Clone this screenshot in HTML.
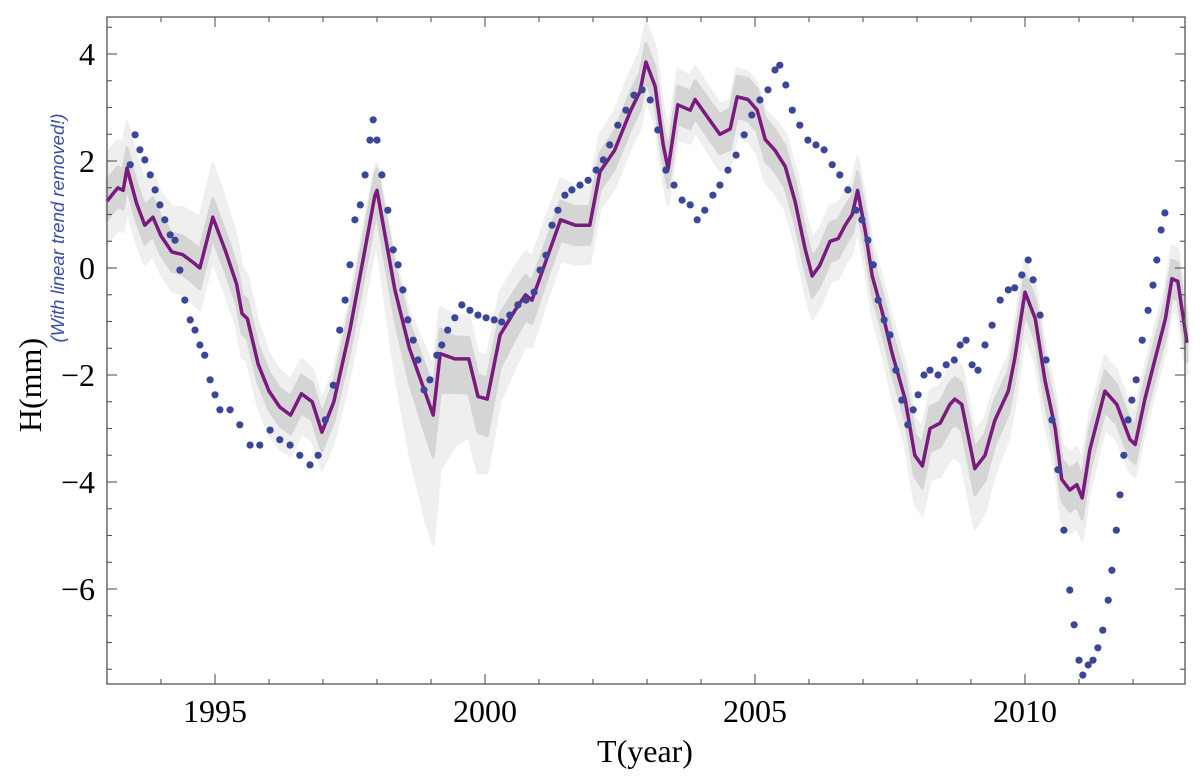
<!DOCTYPE html>
<html><head><meta charset="utf-8"><style>
html,body{margin:0;padding:0;background:#fff;}
svg{display:block;}
</style></head><body>
<svg id="chart" width="1200" height="776" xmlns="http://www.w3.org/2000/svg">
<g id="bands"></g>
<g id="line"></g>
<g id="dots"></g>
<g id="axes"></g>
<text x="645" y="762" text-anchor="middle" font-family="Liberation Serif, serif" font-size="32">T(year)</text>
<text transform="translate(41,385) rotate(-90)" text-anchor="middle" font-family="Liberation Serif, serif" font-size="32">H(mm)</text>
<text transform="translate(64,228) rotate(-90)" text-anchor="middle" font-family="Liberation Sans, sans-serif" font-style="italic" font-size="18.5" fill="#3a4ea8">(With linear trend removed!)</text>
</svg>
<script>
const lineYears=[1993.0,1993.2,1993.3,1993.37,1993.55,1993.7,1993.85,1994.0,1994.2,1994.4,1994.6,1994.72,1994.96,1995.2,1995.4,1995.5,1995.6,1995.8,1996.0,1996.2,1996.4,1996.6,1996.8,1996.98,1997.2,1997.5,1997.75,1997.96,1998.0,1998.33,1998.6,1998.9,1999.04,1999.17,1999.44,1999.7,1999.87,2000.04,2000.28,2000.55,2000.75,2000.87,2001.1,2001.4,2001.67,2001.94,2002.13,2002.4,2002.7,2002.87,2002.98,2003.15,2003.3,2003.39,2003.57,2003.8,2003.89,2004.17,2004.35,2004.54,2004.67,2004.87,2005.04,2005.19,2005.37,2005.56,2005.74,2005.93,2006.06,2006.2,2006.39,2006.54,2006.67,2006.8,2006.9,2007.04,2007.17,2007.35,2007.54,2007.78,2007.96,2008.1,2008.24,2008.43,2008.61,2008.7,2008.83,2009.07,2009.26,2009.44,2009.69,2009.81,2010.0,2010.19,2010.37,2010.56,2010.68,2010.83,2010.96,2011.06,2011.2,2011.48,2011.7,2011.94,2012.04,2012.22,2012.41,2012.6,2012.72,2012.83,2013.0];
const lineValues=[1.25,1.5,1.45,1.87,1.2,0.8,0.95,0.6,0.3,0.25,0.1,0.0,0.95,0.3,-0.3,-0.85,-0.95,-1.8,-2.3,-2.6,-2.75,-2.35,-2.5,-3.07,-2.5,-1.15,0.2,1.35,1.45,-0.4,-1.5,-2.35,-2.75,-1.6,-1.7,-1.7,-2.4,-2.45,-1.25,-0.8,-0.5,-0.6,0.05,0.9,0.8,0.8,1.8,2.2,2.95,3.3,3.85,3.4,2.3,1.85,3.05,2.95,3.15,2.75,2.5,2.6,3.2,3.15,2.95,2.4,2.2,1.9,1.25,0.35,-0.15,0.05,0.5,0.55,0.8,1.0,1.45,0.7,-0.15,-0.8,-1.6,-2.45,-3.5,-3.7,-3.0,-2.9,-2.55,-2.45,-2.55,-3.75,-3.5,-2.85,-2.3,-1.7,-0.45,-0.95,-2.1,-3.0,-3.95,-4.15,-4.05,-4.3,-3.4,-2.3,-2.55,-3.2,-3.3,-2.45,-1.7,-0.95,-0.2,-0.25,-1.4];
const bandYears=[1993,1994,1995,1996,1997,1998,1998.5,1999,1999.5,2000,2001,2002,2003,2004,2005,2006,2007,2008,2009,2010,2011,2012,2013];
const innerUp=[0.4,0.35,0.35,0.35,0.35,0.4,0.45,0.5,0.4,0.4,0.35,0.35,0.35,0.35,0.4,0.35,0.35,0.4,0.4,0.35,0.4,0.35,0.35];
const innerDn=[0.35,0.35,0.4,0.35,0.35,0.45,0.6,0.8,0.6,0.7,0.4,0.35,0.35,0.35,0.4,0.4,0.35,0.4,0.5,0.4,0.4,0.35,0.35];
const outerUp=[0.9,0.8,1.0,0.7,0.6,0.5,0.6,0.9,0.8,0.8,0.8,0.7,0.75,0.6,0.5,0.7,0.6,0.7,0.7,0.6,0.7,0.6,0.6];
const outerDn=[0.8,0.7,0.8,0.8,0.7,1.0,1.8,2.5,1.5,1.4,0.8,0.7,0.7,0.6,0.8,0.8,0.7,0.9,1.15,0.8,0.8,0.6,0.6];
const dotYears=[1993.43,1993.52,1993.61,1993.70,1993.80,1993.89,1993.98,1994.07,1994.17,1994.26,1994.35,1994.44,1994.54,1994.63,1994.72,1994.81,1994.91,1995.00,1995.09,1995.28,1995.46,1995.65,1995.83,1996.02,1996.20,1996.39,1996.57,1996.76,1996.91,1997.04,1997.19,1997.31,1997.41,1997.50,1997.59,1997.69,1997.78,1997.87,1997.93,1998.00,1998.09,1998.20,1998.30,1998.39,1998.48,1998.57,1998.67,1998.76,1998.87,1998.98,1999.11,1999.20,1999.31,1999.44,1999.57,1999.72,1999.87,2000.02,2000.17,2000.31,2000.46,2000.61,2000.76,2000.91,2001.02,2001.13,2001.24,2001.35,2001.48,2001.61,2001.76,2001.91,2002.06,2002.19,2002.31,2002.46,2002.61,2002.76,2002.91,2003.06,2003.20,2003.35,2003.50,2003.65,2003.80,2003.93,2004.07,2004.22,2004.35,2004.50,2004.65,2004.80,2004.94,2005.09,2005.24,2005.37,2005.46,2005.57,2005.69,2005.83,2005.98,2006.13,2006.28,2006.43,2006.57,2006.72,2006.87,2006.98,2007.09,2007.19,2007.28,2007.39,2007.50,2007.61,2007.72,2007.83,2007.93,2008.02,2008.13,2008.24,2008.39,2008.54,2008.69,2008.80,2008.91,2009.02,2009.13,2009.26,2009.39,2009.54,2009.69,2009.81,2009.94,2010.06,2010.15,2010.28,2010.39,2010.50,2010.61,2010.72,2010.83,2010.91,2011.00,2011.07,2011.17,2011.26,2011.35,2011.44,2011.54,2011.61,2011.69,2011.76,2011.83,2011.91,2011.98,2012.06,2012.17,2012.28,2012.37,2012.44,2012.52,2012.59];
const dotValues=[1.93,2.49,2.21,2.02,1.74,1.46,1.18,0.90,0.62,0.52,-0.04,-0.60,-0.97,-1.16,-1.44,-1.63,-2.09,-2.37,-2.65,-2.65,-2.93,-3.31,-3.31,-3.03,-3.21,-3.31,-3.50,-3.68,-3.50,-2.84,-2.19,-1.16,-0.60,0.06,0.90,1.18,1.74,2.39,2.77,2.39,1.74,1.08,0.34,0.06,-0.41,-0.97,-1.35,-1.72,-2.28,-2.09,-1.63,-1.44,-1.16,-0.93,-0.69,-0.79,-0.88,-0.93,-0.97,-1.01,-0.88,-0.69,-0.60,-0.45,-0.04,0.24,0.80,1.08,1.36,1.46,1.55,1.64,1.83,2.02,2.30,2.67,2.95,3.23,3.33,3.14,2.58,1.83,1.55,1.27,1.18,0.90,1.08,1.36,1.55,1.83,2.11,2.49,2.86,3.14,3.33,3.70,3.79,3.42,2.95,2.67,2.39,2.30,2.21,1.93,1.74,1.46,1.08,0.90,0.52,0.06,-0.60,-0.97,-1.25,-1.91,-2.47,-2.93,-2.65,-2.37,-2.00,-1.91,-2.00,-1.81,-1.72,-1.44,-1.35,-1.81,-1.91,-1.44,-1.07,-0.60,-0.41,-0.37,-0.13,0.15,-0.22,-0.88,-1.72,-2.84,-3.77,-4.90,-6.02,-6.67,-7.33,-7.61,-7.42,-7.33,-7.10,-6.77,-6.21,-5.65,-4.90,-4.24,-3.50,-2.84,-2.47,-2.09,-1.35,-0.79,-0.32,0.15,0.71,1.03];
const xTickLabels=["1995","2000","2005","2010"];
const yTickLabels=["4","2","0","\u22122","\u22124","\u22126"];

const NS="http://www.w3.org/2000/svg";
const L=107,R=1185,T=17,B=684;
const X=y=>L+(y-1993)*54;
const Y=v=>268-v*53.5;
function interp(xs,ys,x){if(x<=xs[0])return ys[0];for(let i=1;i<xs.length;i++){if(x<=xs[i]){const t=(x-xs[i-1])/(xs[i]-xs[i-1]);return ys[i-1]+t*(ys[i]-ys[i-1]);}}return ys[ys.length-1];}
function mk(tag,parent){const e=document.createElementNS(NS,tag);parent.appendChild(e);return e;}

const bands=document.getElementById('bands');
function band(up,dn,fill,name){
  let top=[],bot=[];
  for(let i=0;i<lineYears.length;i++){const yr=lineYears[i],v=lineValues[i];
    top.push(X(yr).toFixed(1)+','+Y(v+interp(bandYears,up,yr)).toFixed(1));
    bot.push(X(yr).toFixed(1)+','+Y(v-interp(bandYears,dn,yr)).toFixed(1));}
  const p=mk('polygon',bands);
  
  
  p.setAttribute('points',top.concat(bot.reverse()).join(' '));
  p.setAttribute('fill',fill);p.setAttribute('stroke',fill);p.setAttribute('stroke-width','3');p.setAttribute('stroke-linejoin','round');
}
band(outerUp,outerDn,'#efefef','outer-band');
band(innerUp,innerDn,'#d5d5d5','inner-band');

const lg=document.getElementById('line');
const pl=mk('polyline',lg);


pl.setAttribute('points',lineYears.map((yr,i)=>X(yr).toFixed(1)+','+Y(lineValues[i]).toFixed(1)).join(' '));
pl.setAttribute('fill','none');pl.setAttribute('stroke','#7a1a7f');pl.setAttribute('stroke-width','3.5');pl.setAttribute('stroke-linejoin','round');

const dg=document.getElementById('dots');
dotYears.forEach((yr,i)=>{
  const c=mk('circle',dg);
  
  
  c.setAttribute('cx',X(yr).toFixed(1));c.setAttribute('cy',Y(dotValues[i]).toFixed(1));c.setAttribute('r','3.6');c.setAttribute('fill','#3b4699');
});

const ax=document.getElementById('axes');
const fr=mk('rect',ax);


fr.setAttribute('x',L);fr.setAttribute('y',T);fr.setAttribute('width',R-L);fr.setAttribute('height',B-T);fr.setAttribute('fill','none');fr.setAttribute('stroke','#555');fr.setAttribute('stroke-width','1.3');
function tick(x1,y1,x2,y2){const l=mk('line',ax);
  
  
  l.setAttribute('x1',x1);l.setAttribute('y1',y1);l.setAttribute('x2',x2);l.setAttribute('y2',y2);l.setAttribute('stroke','#555');l.setAttribute('stroke-width','1.1');}
for(let yr=1993;yr<=2013;yr++){const x=X(yr);if(x<L||x>R)continue;const len=yr%5===0?10:5;tick(x,B,x,B-len);tick(x,T,x,T+len);}
for(let v=-7.5;v<=4.5;v+=0.5){const y=Y(v);if(y<T||y>B)continue;const len=(Math.abs(v)%2===0)?10:5;tick(L,y,L+len,y);tick(R,y,R-len,y);}
xTickLabels.forEach(s=>{const t=mk('text',ax);
  
  
  t.setAttribute('x',X(+s));t.setAttribute('y',B+38);t.setAttribute('text-anchor','middle');t.setAttribute('font-family','Liberation Serif, serif');t.setAttribute('font-size','32');t.textContent=s;});
yTickLabels.forEach(s=>{const v=+s.replace('\u2212','-');const t=mk('text',ax);
  
  
  t.setAttribute('x',L-12);t.setAttribute('y',Y(v)+11);t.setAttribute('text-anchor','end');t.setAttribute('font-family','Liberation Serif, serif');t.setAttribute('font-size','32');t.textContent=s;});
</script>
</body></html>
